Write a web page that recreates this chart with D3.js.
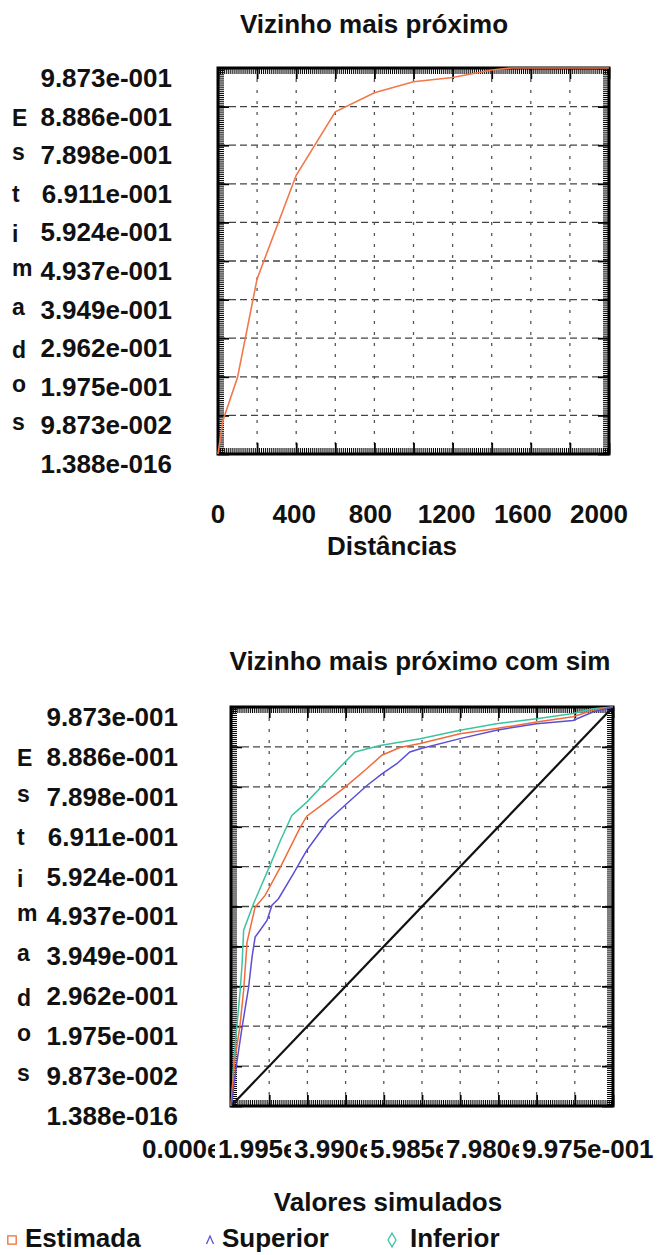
<!DOCTYPE html>
<html>
<head>
<meta charset="utf-8">
<script src="https://cdn.jsdelivr.net/npm/d3@7"></script>
<style>
  body { margin: 0; background: #fff; }
  svg text { font-family: "Liberation Sans", Arial, sans-serif; font-weight: bold; fill: #111; }
</style>
</head>
<body>
<svg id="chart" width="660" height="1255"></svg>
<script>
// Shared Y axis (both panels use the same scale)
const yTickValues = [0, 0.09873, 0.1975, 0.2962, 0.3949, 0.4937, 0.5924, 0.6911, 0.7898, 0.8886, 0.9873];
const yTickLabels = ['1.388e-016', '9.873e-002', '1.975e-001', '2.962e-001', '3.949e-001',
  '4.937e-001', '5.924e-001', '6.911e-001', '7.898e-001', '8.886e-001', '9.873e-001'];
// "Estimados" written downwards, one letter per row (rows 9..1)
const yTitleLetters = ['E', 's', 't', 'i', 'm', 'a', 'd', 'o', 's'];

// Panel 1 - Vizinho mais próximo
const distTicks = [0, 400, 800, 1200, 1600, 2000];
const distX = [0, 25, 100, 200, 400, 600, 800, 1000, 1200, 1400, 1500, 2000];
const distY = [0, 0.085, 0.196, 0.448, 0.713, 0.875, 0.924, 0.952, 0.963, 0.982, 0.9873, 0.9873];

// Panel 2 - Vizinho mais próximo com sim
const simTicks = [0, 0.1995, 0.399, 0.5985, 0.798, 0.9975];
const simTickLabels = ['0.000e+000', '1.995e-001', '3.990e-001', '5.985e-001', '7.980e-001', '9.975e-001'];

const estX = [0, 0.005, 0.011, 0.023, 0.033, 0.042, 0.063, 0.089, 0.129, 0.181, 0.198, 0.242, 0.298, 0.355, 0.394, 0.441, 0.494, 0.598, 0.693, 0.798, 0.893, 0.945, 0.9975];
const estY = [0, 0.064, 0.121, 0.195, 0.286, 0.406, 0.492, 0.521, 0.591, 0.690, 0.717, 0.748, 0.789, 0.835, 0.868, 0.887, 0.897, 0.921, 0.934, 0.950, 0.963, 0.979, 0.9873];

const supX = [0, 0.003, 0.007, 0.016, 0.029, 0.046, 0.055, 0.063, 0.076, 0.094, 0.107, 0.124, 0.163, 0.198, 0.255, 0.302, 0.355, 0.394, 0.433, 0.467, 0.494, 0.598, 0.693, 0.798, 0.893, 0.945, 0.9975];
const supY = [0, 0.014, 0.047, 0.113, 0.195, 0.294, 0.369, 0.418, 0.435, 0.459, 0.497, 0.513, 0.575, 0.633, 0.707, 0.748, 0.793, 0.822, 0.847, 0.876, 0.884, 0.909, 0.930, 0.946, 0.954, 0.975, 0.9873];

const infX = [0, 0.003, 0.007, 0.016, 0.024, 0.029, 0.033, 0.059, 0.103, 0.129, 0.159, 0.198, 0.242, 0.285, 0.324, 0.389, 0.494, 0.598, 0.693, 0.798, 0.893, 0.945, 0.9975];
const infY = [0, 0.031, 0.105, 0.204, 0.286, 0.352, 0.435, 0.501, 0.598, 0.657, 0.719, 0.752, 0.796, 0.839, 0.876, 0.892, 0.909, 0.930, 0.946, 0.958, 0.971, 0.983, 0.9873];

const diagX = [0, 0.9975];
const diagY = [0, 0.9873];

const legendNames = ['Estimada', 'Superior', 'Inferior'];
const legendColors = ['#f26b3a', '#5b4fd6', '#3cc4a0'];

const svg = d3.select('#chart');
const measureCtx = document.createElement('canvas').getContext('2d');

function zip(xs, ys) {
  return xs.map((v, i) => ({ x: v, y: ys[i] }));
}

/**
 * Draws the boxed frame: dashed grid, ruler ticks, border, y labels
 */
function drawFrame(g, x, y, xGrid, opts) {
  const [x0, x1] = x.range();
  const [y1, y0] = y.range();

  // Horizontal grid
  g.selectAll('.hgrid')
    .data(yTickValues.slice(1, -1))
    .enter().append('line')
    .attr('x1', x0).attr('x2', x1)
    .attr('y1', d => y(d)).attr('y2', d => y(d))
    .attr('stroke', '#444')
    .attr('stroke-width', 1.3)
    .attr('stroke-dasharray', '7,4');

  // Vertical grid
  g.selectAll('.vgrid')
    .data(xGrid.slice(1, -1))
    .enter().append('line')
    .attr('x1', d => x(d)).attr('x2', d => x(d))
    .attr('y1', y0).attr('y2', y1)
    .attr('stroke', '#555')
    .attr('stroke-width', 1.3)
    .attr('stroke-dasharray', '3,8');

  // Ruler ticks on all four sides
  const xd = x.domain()[1], yd = y.domain()[1];
  const minorX = d3.range(0, 201).map(i => xd * i / 200);
  const minorY = d3.range(0, 201).map(i => yd * i / 200);
  const axes = [
    [d3.axisLeft(y), `translate(${x0},0)`, minorY, yTickValues],
    [d3.axisRight(y), `translate(${x1},0)`, minorY, yTickValues],
    [d3.axisTop(x), `translate(0,${y0})`, minorX, xGrid],
    [d3.axisBottom(x), `translate(0,${y1})`, minorX, xGrid]
  ];
  axes.forEach(([axis, tr, minor, major]) => {
    g.append('g').attr('transform', tr)
      .call(axis.tickValues(minor).tickSize(-6).tickFormat(''))
      .call(a => a.select('.domain').remove())
      .selectAll('line').attr('stroke', '#000').attr('stroke-width', 1);
    g.append('g').attr('transform', tr)
      .call(axis.tickValues(major).tickSize(-11).tickFormat(''))
      .call(a => a.select('.domain').remove())
      .selectAll('line').attr('stroke', '#000').attr('stroke-width', 1.8);
  });

  // Border
  g.append('rect')
    .attr('x', x0).attr('y', y0)
    .attr('width', x1 - x0).attr('height', y1 - y0)
    .attr('fill', 'none')
    .attr('stroke', '#000')
    .attr('stroke-width', 3);

  // Y labels (hang below the grid line)
  g.selectAll('.ylabel')
    .data(yTickValues)
    .enter().append('text')
    .attr('x', opts.labelRight)
    .attr('y', d => y(d) + 19)
    .attr('text-anchor', 'end')
    .style('font-size', '26px')
    .text((d, i) => yTickLabels[i]);

  // Vertical "Estimados" letters, top aligned with the label next to them
  measureCtx.font = 'bold 23px "Liberation Sans"';
  g.selectAll('.yletter')
    .data(yTitleLetters)
    .enter().append('text')
    .attr('x', opts.letterX)
    .attr('y', (d, i) => y(yTickValues[9 - i]) + 2 + measureCtx.measureText(d).actualBoundingBoxAscent)
    .style('font-size', '23px')
    .text(d => d);
}

function renderDistancePanel() {
  const g = svg.append('g');
  const x = d3.scaleLinear().domain([0, 2000]).range([218, 609]);
  const y = d3.scaleLinear().domain([0, 0.9873]).range([454, 68]);

  drawFrame(g, x, y, d3.range(0, 2001, 200), { labelRight: 172, letterX: 12 });

  g.append('path')
    .datum(zip(distX, distY))
    .attr('fill', 'none')
    .attr('stroke', '#f4774a')
    .attr('stroke-width', 1.6)
    .attr('d', d3.line().x(d => x(d.x)).y(d => y(d.y)));

  // X labels (spread slightly narrower than the frame, as in the original)
  const xl = d3.scaleLinear().domain([0, 2000]).range([218, 599]);
  g.selectAll('.xlabel')
    .data(distTicks)
    .enter().append('text')
    .attr('x', d => xl(d))
    .attr('y', 523)
    .attr('text-anchor', 'middle')
    .style('font-size', '26px')
    .text(d => d);

  g.append('text')
    .attr('x', 374).attr('y', 33)
    .attr('text-anchor', 'middle')
    .style('font-size', '26px')
    .text('Vizinho mais próximo');

  g.append('text')
    .attr('x', 392).attr('y', 555)
    .attr('text-anchor', 'middle')
    .style('font-size', '26px')
    .text('Distâncias');
}

function renderSimPanel() {
  const g = svg.append('g');
  const x = d3.scaleLinear().domain([0, 0.9975]).range([231, 613]);
  const y = d3.scaleLinear().domain([0, 0.9873]).range([1106, 707]);

  drawFrame(g, x, y, d3.range(0, 11).map(i => 0.09975 * i), { labelRight: 178, letterX: 17 });

  const line = d3.line().x(d => x(d.x)).y(d => y(d.y));

  g.append('path')
    .datum(zip(diagX, diagY))
    .attr('fill', 'none')
    .attr('stroke', '#111')
    .attr('stroke-width', 2.2)
    .attr('d', line);

  const series = [[infX, infY, legendColors[2]], [estX, estY, legendColors[0]], [supX, supY, legendColors[1]]];
  series.forEach(([xs, ys, color]) => {
    g.append('path')
      .datum(zip(xs, ys))
      .attr('fill', 'none')
      .attr('stroke', color)
      .attr('stroke-width', 1.5)
      .attr('d', line);
  });

  // X labels: each one has an opaque background, so the next label hides the tail of the previous
  const xl = d3.scaleLinear().domain([0, 0.9975]).range([142, 522]);
  simTicks.forEach((v, i) => {
    const lg = g.append('g');
    const bg = lg.append('rect').attr('fill', '#fff');
    const t = lg.append('text')
      .attr('x', xl(v))
      .attr('y', 1158)
      .style('font-size', '26px')
      .text(simTickLabels[i]);
    const bb = t.node().getBBox();
    bg.attr('x', bb.x - 3).attr('y', bb.y).attr('width', bb.width + 3).attr('height', bb.height);
  });

  g.append('text')
    .attr('x', 420).attr('y', 670)
    .attr('text-anchor', 'middle')
    .style('font-size', '26px')
    .text('Vizinho mais próximo com sim');

  g.append('text')
    .attr('x', 388).attr('y', 1211)
    .attr('text-anchor', 'middle')
    .style('font-size', '26px')
    .text('Valores simulados');

  // Legend
  const legendX = [12, 210, 392];
  const textX = [25, 222, 410];
  const markers = [
    d3.symbol().type(d3.symbolSquare).size(70)(),
    'M-3.5,4L0,-4L3.5,4',
    d3.symbol().type(d3.symbolDiamond).size(55)()
  ];
  legendNames.forEach((name, i) => {
    g.append('path')
      .attr('transform', `translate(${legendX[i]},1240)`)
      .attr('d', markers[i])
      .attr('fill', 'none')
      .attr('stroke', legendColors[i])
      .attr('stroke-width', 1.3);
    g.append('text')
      .attr('x', textX[i]).attr('y', 1247)
      .style('font-size', '26px')
      .text(name);
  });
}

renderDistancePanel();
renderSimPanel();
</script>
</body>
</html>
